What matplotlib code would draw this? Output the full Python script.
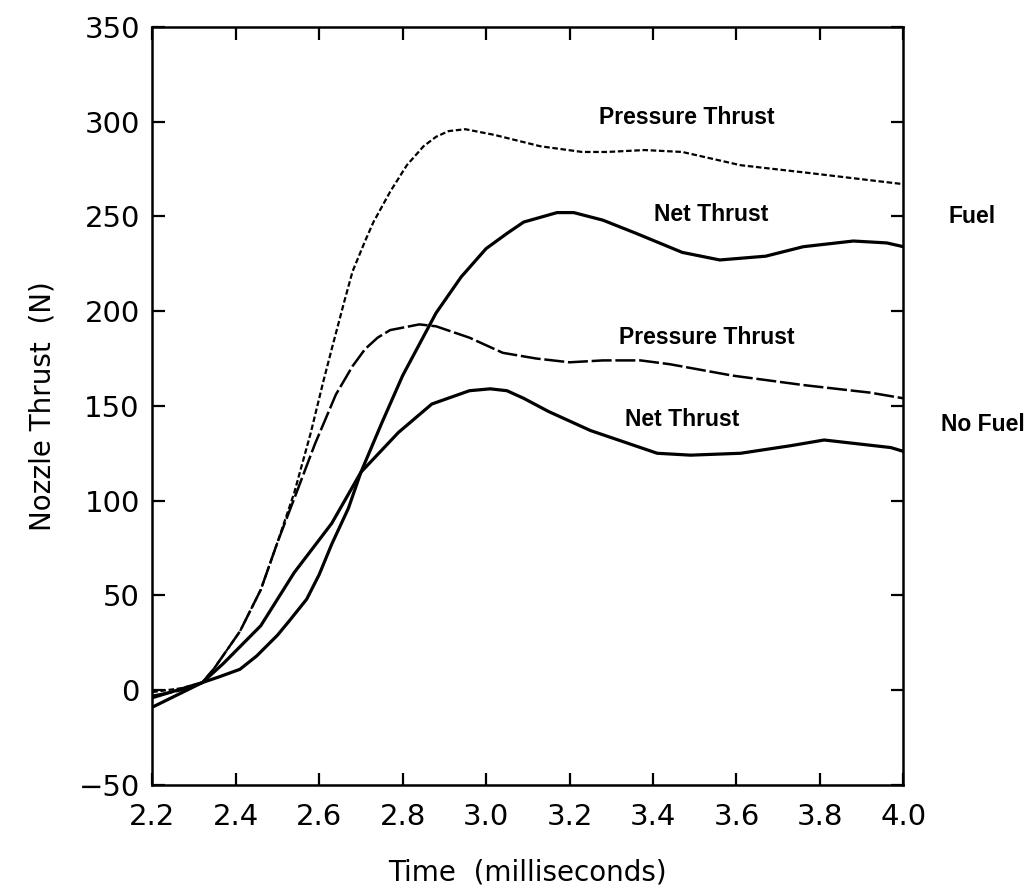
import matplotlib
matplotlib.use("Agg")
import matplotlib.pyplot as plt

# nozzle thrust histories, time in milliseconds, thrust in newtons
fuel_pressure_t = [2.20, 2.27, 2.32, 2.35, 2.41, 2.46, 2.50, 2.54, 2.58, 2.61,
                   2.63, 2.66, 2.68, 2.71, 2.73, 2.77, 2.81, 2.85, 2.88, 2.91,
                   2.95, 3.02, 3.13, 3.23, 3.29, 3.38, 3.47, 3.61, 3.77, 4.00]
fuel_pressure = [-1, 1, 4, 12, 31, 53, 78, 104, 136, 163,
                 180, 205, 221, 237, 247, 263, 277, 287, 292, 295,
                 296, 293, 287, 284, 284, 285, 284, 277, 273, 267]

fuel_net_t = [2.20, 2.32, 2.36, 2.41, 2.45, 2.50, 2.53, 2.57, 2.60, 2.63,
              2.67, 2.70, 2.75, 2.80, 2.88, 2.94, 3.00, 3.05, 3.09, 3.17,
              3.21, 3.28, 3.36, 3.47, 3.56, 3.67, 3.76, 3.88, 3.96, 4.00]
fuel_net = [-9, 4, 7, 11, 18, 29, 37, 48, 61, 77,
            96, 115, 141, 166, 199, 218, 233, 241, 247, 252,
            252, 248, 241, 231, 227, 229, 234, 237, 236, 234]

nofuel_pressure_t = [2.20, 2.27, 2.32, 2.35, 2.41, 2.46, 2.50, 2.54, 2.59, 2.64,
                     2.68, 2.71, 2.74, 2.77, 2.84, 2.88, 2.96, 3.04, 3.12, 3.20,
                     3.28, 3.37, 3.44, 3.59, 3.76, 3.92, 4.00]
nofuel_pressure = [-3, 0, 4, 12, 31, 53, 78, 101, 130, 156,
                   171, 180, 186, 190, 193, 192, 186, 178, 175, 173,
                   174, 174, 172, 166, 161, 157, 154]

nofuel_net_t = [2.20, 2.32, 2.37, 2.46, 2.54, 2.63, 2.70, 2.79, 2.87, 2.96,
                3.01, 3.05, 3.09, 3.15, 3.25, 3.33, 3.41, 3.49, 3.61, 3.73,
                3.81, 3.89, 3.97, 4.00]
nofuel_net = [-4, 4, 14, 34, 62, 88, 115, 136, 151, 158,
              159, 158, 154, 147, 137, 131, 125, 124, 125, 129,
              132, 130, 128, 126]

xticks = [2.2, 2.4, 2.6, 2.8, 3.0, 3.2, 3.4, 3.6, 3.8, 4.0]
yticks = [-50, 0, 50, 100, 150, 200, 250, 300, 350]

# curve labels: (text, time, thrust)
curve_labels = [("Pressure Thrust", 3.48, 302),
                ("Net Thrust", 3.54, 251),
                ("Pressure Thrust", 3.53, 186),
                ("Net Thrust", 3.47, 143)]
case_labels = [("Fuel", 4.165, 250), ("No Fuel", 4.19, 140)]

fig = plt.figure(figsize=(10.36, 8.96), dpi=100)
ax = fig.add_axes([0.147, 0.124, 0.725, 0.846])

ax.plot(fuel_pressure_t, fuel_pressure, color="black", lw=1.6,
        linestyle=(0, (2.5, 1.2)))
ax.plot(nofuel_pressure_t, nofuel_pressure, color="black", lw=1.8,
        linestyle=(0, (8, 1.5)))
ax.plot(fuel_net_t, fuel_net, color="black", lw=2.3)
ax.plot(nofuel_net_t, nofuel_net, color="black", lw=2.3)

ax.set_xlim(2.2, 4.0)
ax.set_ylim(-50, 350)
ax.set_xticks(xticks)
ax.set_yticks(yticks)
ax.set_xticklabels([f"{t:.1f}" for t in xticks])
ax.tick_params(direction="in", length=9, width=1.6, top=True, right=True,
               labelsize=21)
ax.tick_params(axis="x", pad=13)
ax.tick_params(axis="y", pad=9)
for s in ax.spines.values():
    s.set_linewidth(1.8)

ax.set_xlabel("Time  (milliseconds)", fontsize=20, labelpad=20)
ax.set_ylabel("Nozzle Thrust  (N)", fontsize=20, labelpad=16)

for txt, t, v in curve_labels:
    ax.text(t, v, txt, ha="center", va="center", fontsize=16.5,
            fontweight="bold", family="Liberation Sans")
for txt, t, v in case_labels:
    ax.text(t, v, txt, ha="center", va="center", fontsize=16.5,
            fontweight="bold", family="Liberation Sans", clip_on=False)

fig.savefig("out.png", dpi=100, facecolor="white")
